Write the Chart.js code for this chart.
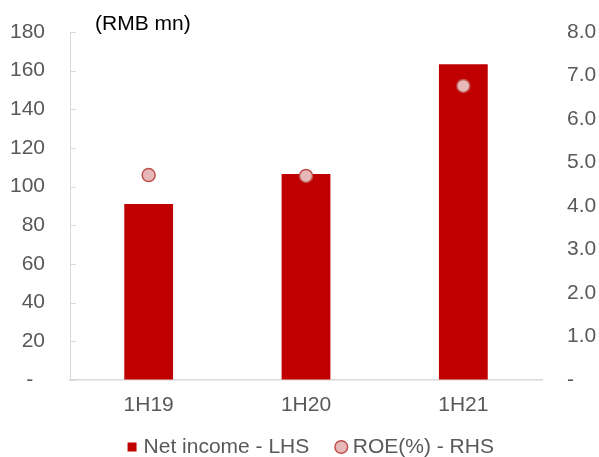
<!DOCTYPE html>
<html>
<head>
<meta charset="utf-8">
<script src="https://cdn.jsdelivr.net/npm/chart.js@4"></script>
<style>
  html, body { margin: 0; padding: 0; background: #fff; }
  #wrap { position: relative; width: 599px; height: 457px; }
  #unit { position: absolute; left: 95px; top: 11px; font: 21px "Liberation Sans", Arial, sans-serif; color: #000; white-space: nowrap; }
</style>
</head>
<body>
<div id="wrap">
  <canvas id="c" width="599" height="457"></canvas>
  <div id="unit">(RMB mn)</div>
</div>
<script>
const categories = ['1H19', '1H20', '1H21'];
const netIncome = [91, 106.5, 163.3];
const roe = [4.71, 4.69, 6.76];
const leftTicks = { min: 0, max: 180, step: 20 };
const rightTicks = { min: 0, max: 8, step: 1 };

const FONT = { family: '"Liberation Sans", Arial, sans-serif', size: 21 };
const GREY = '#595959';
const AXIS = '#D9D9D9';
const LEGEND_PAD = 31;

const innerTicks = {
  id: 'innerTicks',
  afterDraw(chart) {
    const s = chart.scales.y;
    const ctx = chart.ctx;
    ctx.save();
    ctx.strokeStyle = AXIS;
    ctx.lineWidth = 1;
    s.ticks.forEach((t, i) => {
      const y = Math.round(s.getPixelForTick(i)) + 0.5;
      ctx.beginPath();
      ctx.moveTo(s.right, y);
      ctx.lineTo(s.right + 6, y);
      ctx.stroke();
    });
    ctx.restore();
  }
};

const legendPlace = {
  id: 'legendPlace',
  beforeLayout(chart) {
    const lg = chart.legend;
    if (lg && !lg._wrappedFit) {
      const f = lg.fit;
      lg.fit = function () { f.call(this); this.height = 37; };
      lg._wrappedFit = true;
    }
  },
  afterLayout(chart) {
    const lg = chart.legend;
    if (!lg) return;
    const centerY = 447;
    const top = centerY - LEGEND_PAD - FONT.size / 2;
    lg.top = top;
    lg.bottom = top + 2 * LEGEND_PAD + FONT.size;
    lg.left = 13;
    lg.right = chart.width + 13;
  }
};

new Chart(document.getElementById('c'), {
  data: {
    labels: categories,
    datasets: [
      {
        type: 'line',
        label: 'ROE(%) - RHS',
        data: roe,
        yAxisID: 'y1',
        showLine: false,
        pointStyle: 'circle',
        pointRadius: 6.5,
        pointBorderWidth: 1.5,
        pointBackgroundColor: '#E6B9B8',
        pointBorderColor: '#C0504D',
        backgroundColor: '#E6B9B8',
        borderColor: '#C0504D',
        order: 0
      },
      {
        type: 'bar',
        label: 'Net income - LHS',
        data: netIncome,
        yAxisID: 'y',
        backgroundColor: '#C00000',
        borderWidth: 0,
        pointStyle: 'rect',
        barPercentage: 0.31,
        categoryPercentage: 1,
        order: 1
      }
    ]
  },
  options: {
    responsive: false,
    animation: false,
    layout: { padding: { top: 32, left: 0, right: 0, bottom: 0 } },
    plugins: {
      tooltip: { enabled: false },
      legend: {
        position: 'bottom',
        reverse: true,
        labels: {
          usePointStyle: true,
          boxHeight: 9,
          boxWidth: 2,
          padding: LEGEND_PAD,
          color: GREY,
          font: FONT
        }
      }
    },
    scales: {
      x: {
        afterFit(s) { s.height = 40; },
        grid: { display: false, drawTicks: false },
        border: { display: true, color: AXIS, width: 1.5 },
        ticks: { color: GREY, font: FONT, padding: 13 }
      },
      y: {
        position: 'left',
        min: leftTicks.min,
        max: leftTicks.max,
        afterFit(s) { s.width = 70; s.paddingTop = 0; s.paddingBottom = 0; },
        grid: { drawOnChartArea: false, drawTicks: false },
        border: { display: true, color: AXIS, width: 1 },
        ticks: {
          stepSize: leftTicks.step,
          color: GREY,
          font: FONT,
          padding: 25,
          callback: v => v === 0 ? '-  ' : String(v)
        }
      },
      y1: {
        position: 'right',
        min: rightTicks.min,
        max: rightTicks.max,
        afterFit(s) { s.width = 57; s.paddingTop = 0; s.paddingBottom = 0; },
        grid: { display: false, drawTicks: false },
        border: { display: false },
        ticks: {
          stepSize: rightTicks.step,
          color: GREY,
          font: FONT,
          padding: 25,
          callback: v => v === 0 ? '-' : v.toFixed(1)
        }
      }
    }
  },
  plugins: [innerTicks, legendPlace]
});
</script>
</body>
</html>
